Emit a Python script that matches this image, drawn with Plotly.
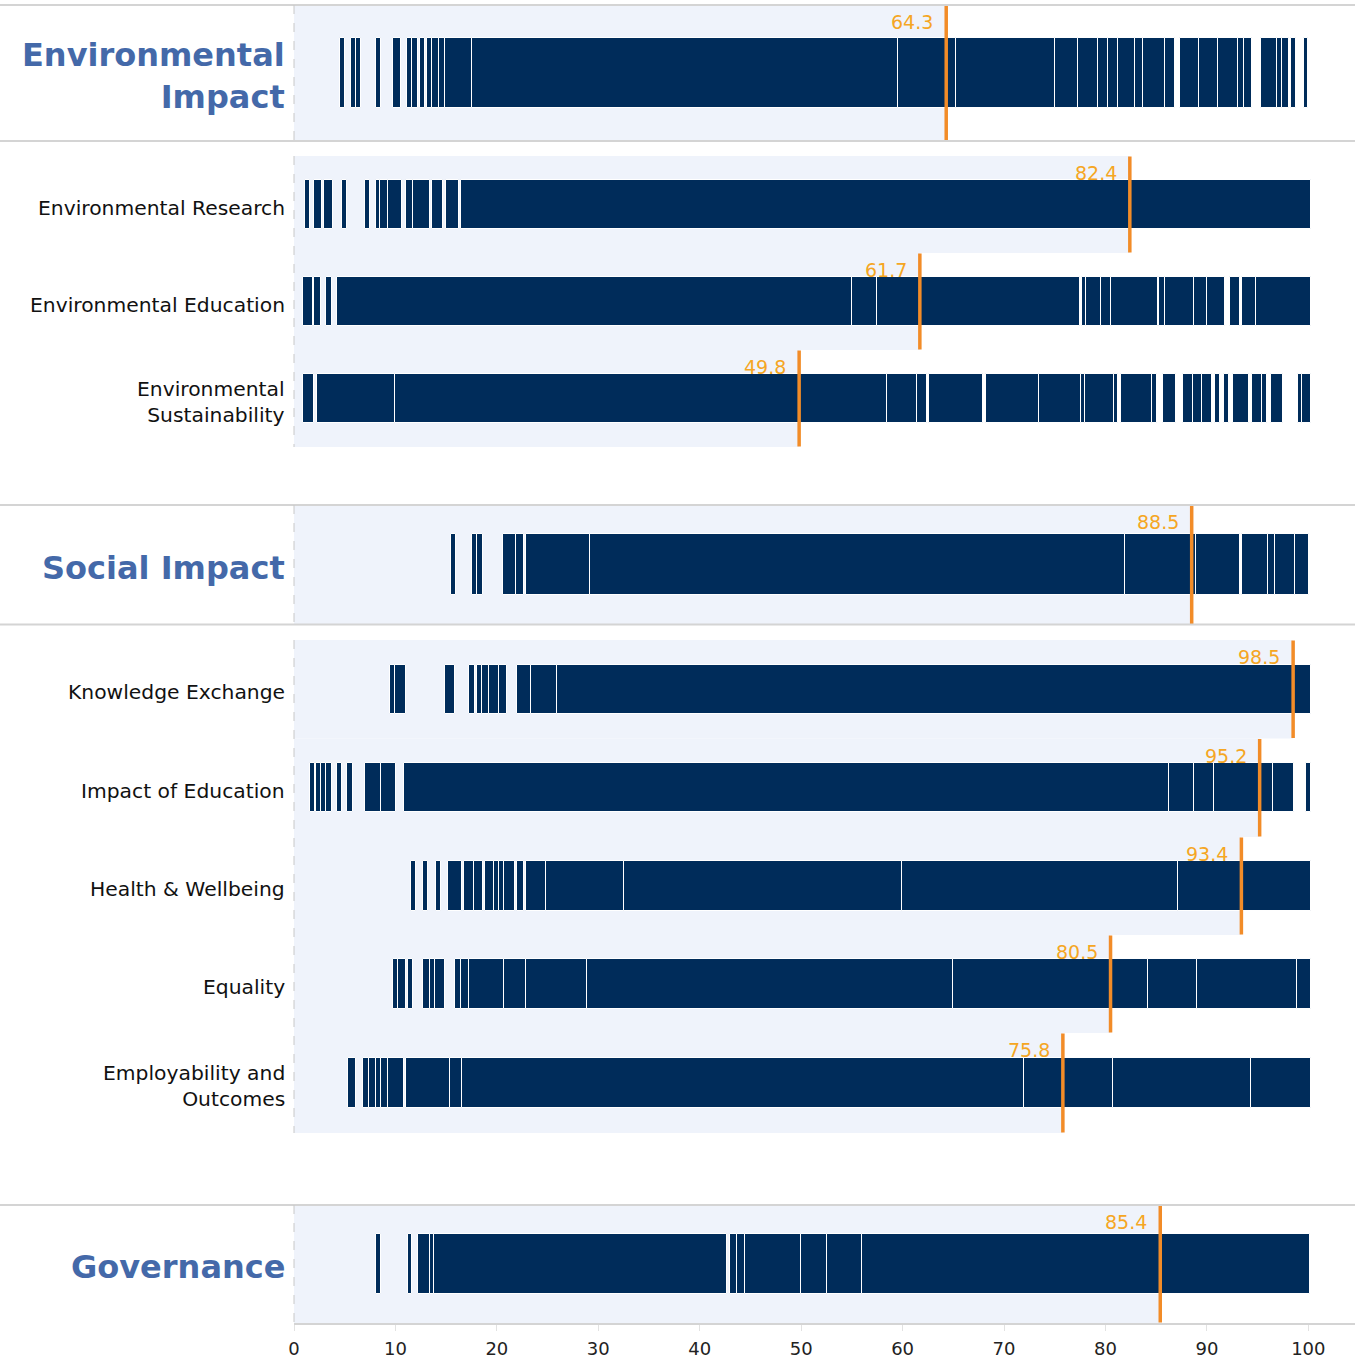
import plotly.graph_objects as go

# ---------------- data ----------------
row_labels = [
    "Environmental<br>Impact", "Environmental Research", "Environmental Education",
    "Environmental<br>Sustainability", "Social Impact", "Knowledge Exchange",
    "Impact of Education", "Health &amp; Wellbeing", "Equality",
    "Employability and<br>Outcomes", "Governance",
]
row_is_header = [True, False, False, False, True, False, False, False, False, False, True]
scores = [64.3, 82.4, 61.7, 49.8, 88.5, 98.5, 95.2, 93.4, 80.5, 75.8, 85.4]
tick_values = [0, 10, 20, 30, 40, 50, 60, 70, 80, 90, 100]
tick_labels = ["0", "10", "20", "30", "40", "50", "60", "70", "80", "90", "100"]

# distribution "barcode" segments per row: [start, end] on the 0-100 scale
seg_env_impact = [
    [4.55, 4.95], [5.7, 6.15], [6.15, 6.6], [8.1, 8.5], [9.85, 10.45],
    [11.2, 11.7], [11.7, 12.2], [12.5, 12.9], [13.2, 13.65], [13.65, 14.35],
    [14.35, 14.95], [14.95, 17.6], [17.6, 59.55], [59.55, 65.35], [65.35, 75.05],
    [75.05, 77.35], [77.35, 79.3], [79.3, 80.3], [80.3, 81.25], [81.25, 82.95],
    [82.95, 83.75], [83.75, 85.95], [85.95, 86.85], [87.4, 89.25], [89.25, 91.1],
    [91.1, 93.15], [93.15, 93.7], [93.7, 94.35], [95.35, 96.95], [96.95, 97.45],
    [97.45, 98.0], [98.3, 98.7], [99.6, 99.95],
]
seg_env_research = [
    [1.1, 1.5], [2.05, 2.75], [3.05, 3.75], [4.75, 5.15], [7.0, 7.4],
    [8.1, 8.5], [8.5, 9.3], [9.3, 10.55], [11.05, 11.75], [11.75, 13.4],
    [13.7, 14.6], [15.0, 16.25], [16.55, 100.2],
]
seg_env_education = [
    [0.9, 1.8], [2.05, 2.65], [3.25, 3.65], [4.25, 55.05], [55.05, 57.55],
    [57.55, 77.4], [77.75, 78.1], [78.1, 79.65], [79.65, 80.6], [80.6, 85.1],
    [85.3, 85.95], [85.95, 88.8], [88.8, 90.1], [90.1, 91.7], [92.3, 93.2],
    [93.5, 94.9], [94.9, 100.2],
]
seg_env_sustainability = [
    [0.9, 1.95], [2.35, 10.05], [10.05, 58.5], [58.5, 61.45], [61.45, 62.4],
    [62.7, 67.9], [68.25, 73.45], [73.45, 77.65], [77.65, 78.05], [78.05, 80.85],
    [80.85, 81.2], [81.6, 84.6], [84.6, 85.05], [85.7, 86.9], [87.7, 88.65],
    [88.65, 89.55], [89.55, 90.5], [90.8, 91.2], [91.7, 92.1], [92.65, 94.1],
    [94.5, 95.45], [95.45, 95.85], [96.35, 97.45], [99.0, 99.45], [99.45, 100.2],
]
seg_social_impact = [
    [15.5, 15.9], [17.55, 18.05], [18.05, 18.55], [20.7, 21.95], [21.95, 22.6],
    [22.95, 29.25], [29.25, 82.0], [82.0, 88.95], [88.95, 93.2], [93.5, 96.05],
    [96.05, 96.75], [96.75, 98.7], [98.7, 100.0],
]
seg_knowledge_exchange = [
    [9.55, 10.05], [10.05, 10.95], [14.9, 15.8], [17.35, 17.75], [18.05, 18.45],
    [18.6, 19.3], [19.3, 20.25], [20.25, 20.9], [22.0, 23.4], [23.4, 25.95],
    [25.95, 100.2],
]
seg_impact_education = [
    [1.6, 2.0], [2.25, 2.7], [2.7, 3.2], [3.2, 3.65], [4.25, 4.65],
    [5.25, 5.8], [7.0, 8.6], [8.6, 10.05], [10.85, 86.35], [86.35, 88.8],
    [88.8, 90.75], [90.75, 96.6], [96.6, 98.5], [99.8, 100.2],
]
seg_health_wellbeing = [
    [11.55, 11.95], [12.8, 13.2], [14.0, 14.4], [15.2, 16.55], [16.85, 17.8],
    [17.8, 18.55], [18.85, 19.75], [19.75, 20.25], [20.25, 20.75], [20.75, 21.7],
    [22.0, 22.6], [22.9, 24.9], [24.9, 32.6], [32.6, 60.0], [60.0, 87.15],
    [87.15, 100.2],
]
seg_equality = [
    [9.85, 10.3], [10.3, 10.95], [11.25, 11.65], [12.8, 13.45], [13.45, 13.95],
    [13.95, 14.8], [15.9, 16.4], [16.55, 17.3], [17.3, 20.75], [20.75, 22.95],
    [22.95, 28.95], [28.95, 65.0], [65.0, 84.25], [84.25, 89.1], [89.1, 98.95],
    [98.95, 100.2],
]
seg_employability = [
    [5.4, 6.1], [6.9, 7.45], [7.45, 8.15], [8.15, 8.65], [8.65, 9.3],
    [9.3, 10.75], [11.05, 15.45], [15.45, 16.6], [16.6, 72.0], [72.0, 80.8],
    [80.8, 94.4], [94.4, 100.2],
]
seg_governance = [
    [8.15, 8.5], [11.25, 11.6], [12.3, 13.5], [13.5, 13.9], [13.9, 42.6],
    [43.0, 43.75], [43.75, 44.55], [44.55, 50.05], [50.05, 52.55], [52.55, 56.05],
    [56.05, 100.1],
]
row_segments = [
    seg_env_impact, seg_env_research, seg_env_education, seg_env_sustainability,
    seg_social_impact, seg_knowledge_exchange, seg_impact_education,
    seg_health_wellbeing, seg_equality, seg_employability, seg_governance,
]

# ---------------- geometry & style ----------------
W, H = 1355, 1359
PLOT_L, PLOT_T, PLOT_B = 294, 5, 1323
X_MAX = 104.6
PX_PER_UNIT = (W - PLOT_L) / X_MAX
OUTLINE_PAD = 0.5 / PX_PER_UNIT   # compensate the white 1px bar outline
band_top = [5, 156, 253, 350, 505, 640, 738.5, 837, 935, 1033, 1205]
band_bot = [141, 253, 350, 447, 624.5, 738.5, 837, 935, 1033, 1133, 1323]
separators = [5, 141, 505, 624.5, 1205]
dash_spans = [(5, 141), (156, 447), (505, 624.5), (640, 1133), (1205, 1323)]

NAVY = "#002C5A"
BG = "#EFF3FB"
ORANGE = "#F28C28"
ORANGE_TXT = "#F5A623"
HEADER_BLUE = "#4469A9"
FONT = "DejaVu Sans, Verdana, sans-serif"


def to_paper_y(py):
    return (PLOT_B - py) / (PLOT_B - PLOT_T)


fig = go.Figure()
shapes = []
annotations = []

for i, segs in enumerate(row_segments):
    top, bot = band_top[i], band_bot[i]
    center = (top + bot) / 2
    frac = 0.512 if row_is_header[i] else 0.502
    bar_h = (bot - top) * frac
    starts = [s - OUTLINE_PAD for s, e in segs]
    widths = [(e - s) + 2 * OUTLINE_PAD for s, e in segs]
    fig.add_trace(go.Bar(
        orientation="h",
        y=[center] * len(segs),
        x=widths,
        base=starts,
        width=bar_h,
        marker=dict(color=NAVY, line=dict(color="white", width=1)),
        hoverinfo="skip",
        showlegend=False,
    ))
    # score background
    shapes.append(dict(type="rect", xref="x", yref="y", x0=0, x1=scores[i],
                       y0=top, y1=bot, fillcolor=BG, line=dict(width=0),
                       layer="below"))
    # score marker
    shapes.append(dict(type="line", xref="x", yref="y", x0=scores[i], x1=scores[i],
                       y0=top + 0.5, y1=bot - 0.5,
                       line=dict(color=ORANGE, width=3.5), layer="above"))
    annotations.append(dict(
        x=scores[i], y=top + 17, xref="x", yref="y", text=f"{scores[i]:.1f}",
        showarrow=False, xanchor="right", yanchor="middle", xshift=-11,
        font=dict(family=FONT, size=19, color=ORANGE_TXT)))
    # row label
    if row_is_header[i]:
        lab_font = dict(family=FONT, size=32, color=HEADER_BLUE, weight="bold")
    else:
        lab_font = dict(family=FONT, size=20.3, color="#111111")
    annotations.append(dict(
        x=0, y=center, xref="paper", yref="y", text=row_labels[i], showarrow=False,
        xanchor="right", yanchor="middle", align="right", xshift=-7, yshift=-3,
        font=lab_font))

x_left_paper = -PLOT_L / (W - PLOT_L)
for py in separators:
    shapes.append(dict(type="line", xref="paper", yref="paper", x0=x_left_paper, x1=1,
                       y0=to_paper_y(py), y1=to_paper_y(py),
                       line=dict(color="#D4D4D4", width=2), layer="above"))
for (a, b) in dash_spans:
    shapes.append(dict(type="line", xref="paper", yref="paper", x0=0, x1=0,
                       y0=to_paper_y(a), y1=to_paper_y(b),
                       line=dict(color="#C8C8C8", width=1, dash="dash"), layer="above"))

fig.update_layout(
    width=W, height=H,
    margin=dict(l=PLOT_L, r=0, t=PLOT_T, b=H - PLOT_B),
    plot_bgcolor="white", paper_bgcolor="white",
    barmode="overlay", bargap=0,
    shapes=shapes, annotations=annotations,
    font=dict(family=FONT),
    xaxis=dict(range=[0, X_MAX], tickvals=tick_values, ticktext=tick_labels,
               showgrid=False, zeroline=False, showline=True, linecolor="#D4D4D4",
               linewidth=2, ticks="outside", ticklen=6, tickcolor="#E2E2E2",
               tickwidth=1, ticklabelstandoff=2,
               tickfont=dict(family=FONT, size=18, color="#222222"),
               fixedrange=True),
    yaxis=dict(range=[PLOT_B, PLOT_T], visible=False, fixedrange=True),
)

fig.write_html("out.html", config={"displayModeBar": False},
               post_script="document.body.style.margin='0';document.body.style.overflow='hidden';")
